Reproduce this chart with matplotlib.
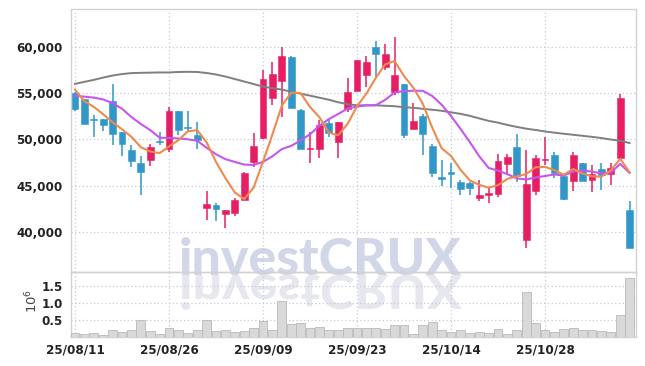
import numpy as np
import pandas as pd
import matplotlib
matplotlib.use("Agg")
import matplotlib.pyplot as plt
from matplotlib.font_manager import FontProperties
from matplotlib.textpath import TextPath
from matplotlib.patches import PathPatch
from matplotlib.transforms import Affine2D, IdentityTransform

# ======================= DATA =======================

dates = ["25/08/11", "25/08/12", "25/08/13", "25/08/14", "25/08/18", "25/08/19", "25/08/20",
         "25/08/21", "25/08/22", "25/08/25", "25/08/26", "25/08/27", "25/08/28", "25/08/29",
         "25/09/01", "25/09/02", "25/09/03", "25/09/04", "25/09/05", "25/09/08", "25/09/09",
         "25/09/10", "25/09/11", "25/09/12", "25/09/15", "25/09/16", "25/09/17", "25/09/18",
         "25/09/19", "25/09/22", "25/09/23", "25/09/24", "25/09/25", "25/09/26", "25/09/29",
         "25/09/30", "25/10/01", "25/10/02", "25/10/10", "25/10/13", "25/10/14", "25/10/15",
         "25/10/16", "25/10/17", "25/10/20", "25/10/21", "25/10/22", "25/10/23", "25/10/24",
         "25/10/27", "25/10/28", "25/10/29", "25/10/30", "25/10/31", "25/11/03", "25/11/04",
         "25/11/05", "25/11/06", "25/11/07", "25/11/10"]

opens = [55000, 54300, 52150, 52200, 54150, 50750, 48850, 47400, 47800, 49800,
         49000, 53100, 51300, 50450, 42550, 42900, 41900, 42100, 43500, 47550,
         50150, 54500, 56250, 58900, 53200, 48950, 49000, 51750, 49700, 53250,
         55250, 56900, 60000, 57800, 55050, 56000, 51150, 52550, 49250, 45850,
         46400, 45450, 45250, 43700, 44000, 44150, 47300, 49150, 39150, 44450,
         47800, 48300, 46100, 45550, 47400, 45600, 46850, 46250, 48000, 42400]
highs = [55100, 54400, 52600, 52200, 56000, 50750, 49400, 48250, 49500, 50800,
         53500, 53100, 53100, 51900, 44450, 43100, 42400, 43650, 46500, 50700,
         57500, 58350, 60000, 59000, 53300, 50800, 52050, 52150, 51900, 56600,
         58600, 59000, 60650, 60300, 61000, 56000, 53900, 52700, 49450, 47800,
         47400, 45600, 45350, 45650, 44750, 48450, 48450, 50550, 48900, 48350,
         50250, 48600, 46100, 48650, 47400, 47200, 47400, 47500, 54900, 43400]
lows = [53100, 51700, 50250, 50900, 49400, 48250, 47050, 44000, 47100, 49400,
        48650, 50450, 50800, 49000, 41350, 41250, 40450, 41700, 43450, 47000,
        50000, 53750, 52400, 53350, 49000, 47450, 47950, 50250, 48000, 52950,
        55200, 55600, 56650, 57500, 54800, 50150, 51100, 48300, 45900, 45000,
        44800, 44050, 44050, 43350, 43150, 43800, 46200, 45400, 38250, 44000,
        47250, 45850, 43450, 44400, 45550, 44300, 44550, 45100, 48000, 38250]
closes = [53300, 51700, 52100, 51500, 50600, 49500, 47650, 46500, 49200, 49700,
          53100, 51050, 51250, 49900, 43050, 42500, 42400, 43500, 46350, 49250,
          56500, 57050, 59000, 53350, 49000, 49050, 51550, 50700, 51900, 55150,
          58550, 58350, 59200, 59200, 56900, 50450, 52000, 50600, 46350, 45800,
          46300, 44650, 44750, 44000, 44250, 47650, 48050, 46100, 45200, 47950,
          47850, 46350, 43550, 48300, 45550, 46300, 46200, 46950, 54500, 38250]

# volume in millions of shares
volumes = [0.12, 0.09, 0.12, 0.06, 0.20, 0.16, 0.20, 0.50, 0.18, 0.09,
           0.26, 0.20, 0.13, 0.20, 0.50, 0.18, 0.20, 0.16, 0.18, 0.26,
           0.47, 0.21, 1.06, 0.39, 0.41, 0.26, 0.29, 0.20, 0.21, 0.27,
           0.27, 0.27, 0.27, 0.24, 0.36, 0.36, 0.09, 0.36, 0.45, 0.20,
           0.16, 0.20, 0.13, 0.16, 0.13, 0.24, 0.10, 0.20, 1.33, 0.40,
           0.20, 0.16, 0.24, 0.27, 0.20, 0.21, 0.19, 0.16, 0.66, 1.74]

# moving-average values before enough closes are in view
ma5_head = [55350, 54100, 53500, 52700]
ma10_head = [54700, 54600, 54500, 54300, 53900, 53300, 52400, 51650, 51000]

# long moving average (grey line)
ma_long = [55980, 56200, 56410, 56660, 56880, 57040, 57140, 57170, 57190, 57210,
           57210, 57260, 57280, 57260, 57150, 56990, 56770, 56500, 56230, 55960,
           55690, 55520, 55360, 55140, 54920, 54710, 54490, 54270, 54000, 53780,
           53670, 53670, 53670, 53620, 53570, 53460, 53400, 53290, 53190, 53080,
           52910, 52750, 52530, 52260, 51990, 51800, 51550, 51340, 51150, 51010,
           50850, 50720, 50600, 50490, 50380, 50270, 50140, 49980, 49850, 49600]

price_ticks = [40000, 45000, 50000, 55000, 60000]
vol_ticks = [0.5, 1.0, 1.5]
date_tick_idx = [0, 10, 20, 30, 40, 50]

# ======================= STYLE =======================

UP = "#e61e64"
DOWN = "#3196c8"
GRID = "#c5c9dd"
SPINE = "#d2d2d2"
TXT = "#222222"
LBL = dict(fontfamily="DejaVu Sans", fontstretch="condensed", fontweight="bold", fontsize=9.5)

df = pd.DataFrame({"open": opens, "high": highs, "low": lows, "close": closes, "vol": volumes})
ma5 = df["close"].rolling(5).mean().to_numpy()
ma5[:len(ma5_head)] = ma5_head
ma10 = df["close"].rolling(10).mean().to_numpy()
ma10[:len(ma10_head)] = ma10_head

W, H = 645, 366
fig = plt.figure(figsize=(W / 100, H / 100), dpi=100)
fig.patch.set_facecolor("white")

ax = fig.add_axes([71 / W, 1 - 272 / H, 565 / W, 263 / H])
axv = fig.add_axes([71 / W, 1 - 337 / H, 565 / W, 65 / H], sharex=ax)
for a in (ax, axv):
    a.set_facecolor("none")
    for s in a.spines.values():
        s.set_color(SPINE)
        s.set_linewidth(1.0)
    a.tick_params(length=0, colors=TXT)

x = np.arange(len(df))

# ======================= CANDLES =======================

for i, r in df.iterrows():
    col = UP if r["close"] >= r["open"] else DOWN
    ax.vlines(i, r["low"], r["high"], color=col, lw=1.1, zorder=3)
    lo = min(r["open"], r["close"])
    h = abs(r["close"] - r["open"])
    if h < 180:
        lo = (r["open"] + r["close"]) / 2 - 90
        h = 180
    ax.bar(i, h, bottom=lo, width=0.72, color=col, edgecolor=col, lw=0.4, zorder=4)

ax.plot(x, ma_long, color="#7f7f7f", lw=1.4, zorder=5)
ax.plot(x, ma10, color="#c656ef", lw=1.5, zorder=5)
ax.plot(x, ma5, color="#ef8a4e", lw=1.5, zorder=6)

ax.set_ylim(35700, 64050)
ax.set_yticks(price_ticks)
ax.set_yticklabels([f"{v:,}" for v in price_ticks], **LBL)
ax.tick_params(axis="y", pad=6)
ax.tick_params(axis="x", labelbottom=False)
ax.grid(True, ls=(0, (1, 2)), color=GRID, lw=0.9)
ax.set_axisbelow(True)

# ======================= VOLUME =======================

axv.bar(x, df["vol"], width=0.94, color="#d9d9d9", edgecolor="#b9b9b9", lw=0.6, zorder=3)
axv.set_ylim(0, 1.91)
axv.set_yticks(vol_ticks)
axv.set_yticklabels([f"{v:.1f}" for v in vol_ticks], **LBL)
axv.tick_params(axis="y", pad=6)
axv.set_xticks(date_tick_idx)
axv.set_xticklabels([dates[i] for i in date_tick_idx], **LBL)
axv.tick_params(axis="x", pad=5)
axv.grid(True, ls=(0, (1, 2)), color=GRID, lw=0.9)
axv.set_axisbelow(True)
axv.set_xlim(-0.43, 59.68)

fig.text(32 / W, 1 - 301 / H, r"$10^6$", rotation=90, ha="center", va="center",
         fontsize=9.5, color="#444444")

# ======================= WATERMARK =======================

x0, x1 = 179, 462
base = H - 275
wm_prop = FontProperties(family="Lato", weight=900, size=40)
wm = fig.text(x0 / W, base / H, "investCRUX", fontproperties=wm_prop,
              color="#d1d6e8", ha="left", va="baseline", zorder=-1)
fig.canvas.draw()
wext = wm.get_window_extent()
fs = 40 * (x1 - x0) / wext.width
wm.set_fontsize(fs)

# mirrored reflection under the watermark
tp = TextPath((0, 0), "investCRUX", size=fs * 100 / 72,
              prop=FontProperties(family="Lato", weight=900))
refl = PathPatch(tp, facecolor="#e6e7ef", edgecolor="none", zorder=-2,
                 transform=Affine2D().scale(1, -0.9).translate(x0, base) + IdentityTransform())
fig.add_artist(refl)

plt.savefig("out.png", dpi=100)
